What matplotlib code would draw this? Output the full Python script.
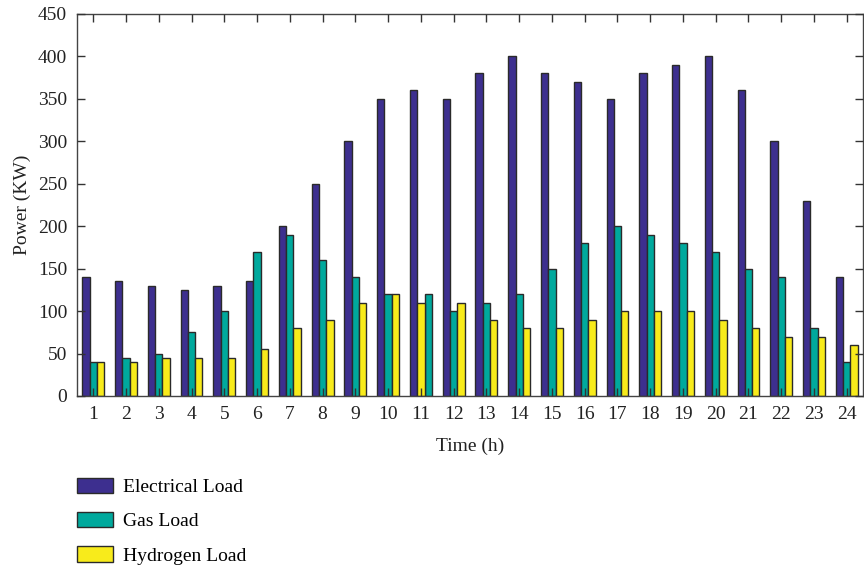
import matplotlib
matplotlib.use("Agg")
import matplotlib.pyplot as plt
from matplotlib.patches import Patch
import numpy as np

hours = list(range(1, 25))
electrical = [140, 135, 130, 125, 130, 135, 200, 250, 300, 350, 360, 350,
              380, 400, 380, 370, 350, 380, 390, 400, 360, 300, 230, 140]
gas = [40, 45, 50, 75, 100, 170, 190, 160, 140, 120, 120, 100,
       110, 120, 150, 180, 200, 190, 180, 170, 150, 140, 80, 40]
hydrogen = [40, 40, 45, 45, 45, 55, 80, 90, 110, 120, 110, 110,
            90, 80, 80, 90, 100, 100, 100, 90, 80, 70, 70, 60]
swapped_hours = [11]  # hours where gas/hydrogen bars appear in swapped order
labels = ["Electrical Load", "Gas Load", "Hydrogen Load"]
colors = ["#3D2F8F", "#00A99D", "#F8EB1B"]

plt.rcParams['font.family'] = ['Liberation Serif', 'DejaVu Serif']
fig = plt.figure(figsize=(8.64, 5.71), dpi=100)
ax = fig.add_axes([0.089, 0.3065, 0.91, 0.669])

x = np.array(hours, dtype=float)
w = 0.222
off_gas = np.array([w if h in swapped_hours else 0.0 for h in hours])
off_hyd = np.array([0.0 if h in swapped_hours else w for h in hours])
ec = "#2a2a2a"
ax.bar(x - w, electrical, width=w, color=colors[0], edgecolor=ec, linewidth=1.0, zorder=2)
ax.bar(x + off_gas, gas, width=w, color=colors[1], edgecolor=ec, linewidth=1.0, zorder=2)
ax.bar(x + off_hyd, hydrogen, width=w, color=colors[2], edgecolor=ec, linewidth=1.0, zorder=2)

ax.set_xlim(0.5, 24.5)
ax.set_ylim(0, 450)
ax.set_xticks(hours)
ax.set_yticks(range(0, 451, 50))
ax.tick_params(direction='in', top=True, right=True, length=6, width=1,
               labelsize=14, color="#333333", labelcolor="#222222", pad=7)
for s in ax.spines.values():
    s.set_color("#444444")
    s.set_linewidth(1.0)
ax.set_axisbelow(False)
ax.set_xlabel("Time (h)", fontsize=14, color="#222222", labelpad=11)
ax.set_ylabel("Power (KW)", fontsize=14, color="#222222", labelpad=5)

handles = [Patch(facecolor=c, edgecolor=ec, linewidth=1.0) for c in colors]
fig.legend(handles, labels, loc='upper left', bbox_to_anchor=(0.089, 0.163),
           bbox_transform=fig.transFigure, frameon=False, fontsize=14,
           handlelength=1.85, handleheight=0.82, labelspacing=0.82, handletextpad=0.5,
           borderaxespad=0, borderpad=0)
fig.savefig("out.png", dpi=100)
